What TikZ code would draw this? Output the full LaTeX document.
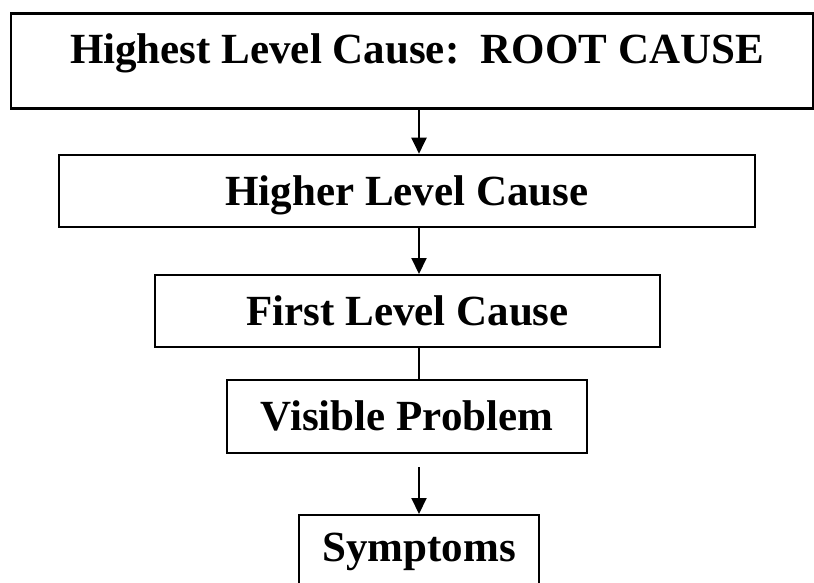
\documentclass[tikz,border=0pt]{standalone}
\usepackage{fontspec}
\setmainfont{Liberation Serif}
\usetikzlibrary{arrows.meta}
\begin{document}
\begin{tikzpicture}[x=1pt,y=-1pt,
  level/.style={draw, rectangle, line width=2pt, inner sep=0pt,
    font=\fontsize{43}{50}\selectfont\bfseries,
    text height=28.5pt, text depth=0pt},
  conn/.style={line width=2pt, -{Triangle[length=16pt,width=15pt]}},
  joiner/.style={line width=2pt}]
  \useasboundingbox (0,0) rectangle (814,582);
  \clip (0,0) rectangle (814,582);

  % cause chain, from the root down to the symptoms
  \node[level, line width=2.7pt, minimum width=802pt,
        text height=50pt, text depth=45pt, anchor=north]
        (root) at (412,12) {\hspace*{10pt}Highest Level Cause:\ \ ROOT CAUSE};
  \node[level, line width=2.6pt, minimum width=696pt, minimum height=72pt]
        (higher) at (407,191) {Higher Level Cause};
  \node[level, minimum width=505pt, minimum height=72pt]
        (first) at (407.5,311) {First Level Cause};
  \node[level, minimum width=360pt, minimum height=73pt]
        (visible) at (407,416.5) {Visible Problem};
  \node[level, minimum width=240pt, text height=46pt, text depth=40pt,
        anchor=north] (symptoms) at (419,514) {Symptoms};

  % connectors along the common axis
  \coordinate (ax) at (419,0);
  \coordinate (gap) at (419,467);
  \draw[conn] (root.south -| ax) -- (higher.north -| ax);
  \draw[conn] (higher.south -| ax) -- (first.north -| ax);
  \draw[joiner] (first.south -| ax) -- (visible.north -| ax);
  \draw[conn] (gap) -- (symptoms.north -| ax);
\end{tikzpicture}
\end{document}
